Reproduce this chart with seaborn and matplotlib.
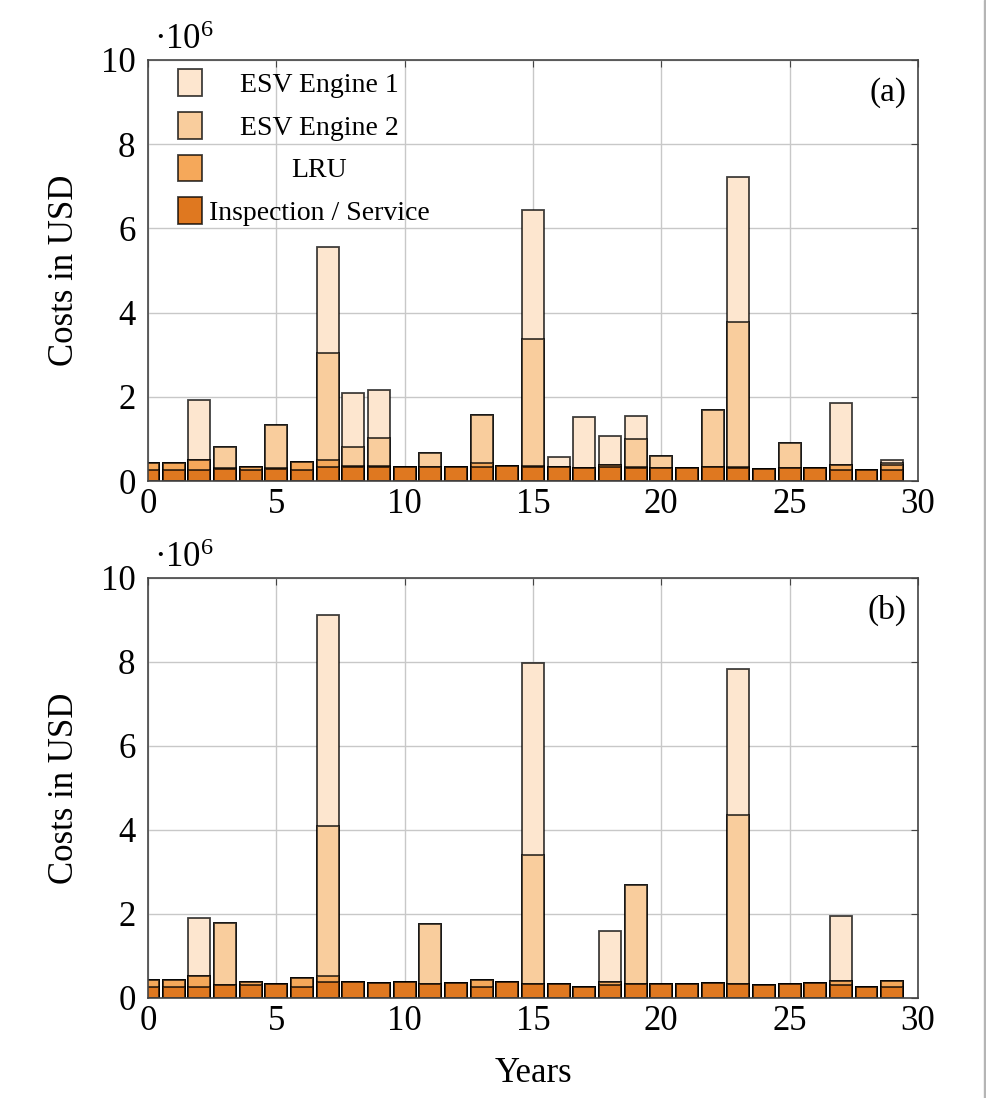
import pandas as pd
import seaborn as sns
import matplotlib.pyplot as plt
from matplotlib.patches import Rectangle

years = list(range(30))

# yearly costs, in 10^6 USD, one list per cost type
# panel (a)
insp_a = [0.27, 0.27, 0.27, 0.29, 0.27, 0.28, 0.27, 0.34, 0.33, 0.34,
          0.34, 0.33, 0.33, 0.33, 0.36, 0.33, 0.33, 0.30, 0.33, 0.30,
          0.32, 0.30, 0.34, 0.30, 0.29, 0.30, 0.31, 0.27, 0.27, 0.27]
lru_a = [0.15, 0.15, 0.23, 0.02, 0.07, 0.04, 0.18, 0.16, 0.03, 0.02,
         0.00, 0.00, 0.00, 0.09, 0.00, 0.02, 0.00, 0.00, 0.05, 0.03,
         0.00, 0.00, 0.00, 0.03, 0.00, 0.00, 0.00, 0.12, 0.00, 0.12]
esv2_a = [0.00, 0.00, 0.00, 0.50, 0.00, 1.01, 0.00, 2.54, 0.45, 0.66,
          0.00, 0.33, 0.00, 1.14, 0.00, 3.02, 0.00, 0.00, 0.00, 0.68,
          0.28, 0.00, 1.35, 3.45, 0.00, 0.61, 0.00, 0.00, 0.00, 0.05]
esv1_a = [0.00, 0.00, 1.42, 0.00, 0.00, 0.00, 0.00, 2.52, 1.28, 1.14,
          0.00, 0.00, 0.00, 0.00, 0.00, 3.07, 0.25, 1.22, 0.70, 0.53,
          0.00, 0.00, 0.00, 3.44, 0.00, 0.00, 0.00, 1.46, 0.00, 0.05]

# panel (b)
insp_b = [0.25, 0.25, 0.25, 0.31, 0.30, 0.33, 0.25, 0.37, 0.37, 0.36,
          0.37, 0.33, 0.35, 0.25, 0.38, 0.33, 0.33, 0.27, 0.30, 0.33,
          0.33, 0.33, 0.35, 0.33, 0.31, 0.33, 0.35, 0.30, 0.27, 0.25]
lru_b = [0.18, 0.18, 0.28, 0.00, 0.07, 0.00, 0.23, 0.16, 0.00, 0.00,
         0.00, 0.00, 0.00, 0.18, 0.00, 0.00, 0.00, 0.00, 0.08, 0.00,
         0.00, 0.00, 0.00, 0.00, 0.00, 0.00, 0.00, 0.11, 0.00, 0.15]
esv2_b = [0.00, 0.00, 0.00, 1.48, 0.00, 0.00, 0.00, 3.57, 0.00, 0.00,
          0.00, 1.43, 0.00, 0.00, 0.00, 3.07, 0.00, 0.00, 0.00, 2.36,
          0.00, 0.00, 0.00, 4.03, 0.00, 0.00, 0.00, 0.00, 0.00, 0.00]
esv1_b = [0.00, 0.00, 1.37, 0.00, 0.00, 0.00, 0.00, 5.02, 0.00, 0.00,
          0.00, 0.00, 0.00, 0.00, 0.00, 4.58, 0.00, 0.00, 1.22, 0.00,
          0.00, 0.00, 0.00, 3.47, 0.00, 0.00, 0.00, 1.54, 0.00, 0.00]

labels = ["ESV Engine 1", "ESV Engine 2", "LRU", "Inspection / Service"]
colors = ["#fde6cf", "#f9cd9d", "#f5a85a", "#df7820"]

sns.set_style("whitegrid")
plt.rcParams["font.family"] = ["Liberation Serif", "DejaVu Serif"]
plt.rcParams["mathtext.fontset"] = "custom"
plt.rcParams["mathtext.rm"] = "Liberation Serif"
plt.rcParams["mathtext.it"] = "Liberation Serif:italic"
plt.rcParams["text.color"] = "black"
plt.rcParams["axes.labelcolor"] = "black"
plt.rcParams["xtick.color"] = "black"
plt.rcParams["ytick.color"] = "black"

FS = 25


def panel(ax, insp, lru, esv2, esv1, tag):
    df = pd.DataFrame({"year": years, "insp": insp, "lru": lru, "esv2": esv2, "esv1": esv1})
    df["c_lru"] = df.insp + df.lru
    df["c_esv2"] = df.c_lru + df.esv2
    df["c_esv1"] = df.c_esv2 + df.esv1
    # stacked look: draw cumulative totals, biggest first
    for col, lab, c in zip(["c_esv1", "c_esv2", "c_lru", "insp"], labels, colors):
        sns.barplot(data=df, x="year", y=col, color=c, saturation=1, native_scale=True,
                    width=0.85, errorbar=None, edgecolor=(0, 0, 0, 0.75), linewidth=1.3,
                    label=lab, legend=False, ax=ax)
    ax.set_xlim(0, 30)
    ax.set_ylim(0, 10)
    ax.set_xticks(range(0, 31, 5))
    ax.set_yticks(range(0, 11, 2))
    ax.set_axisbelow(True)
    ax.grid(True, color="#c8c8c8", linewidth=1)
    for s in ax.spines.values():
        s.set_color("#444444")
        s.set_linewidth(1.2)
    ax.tick_params(direction="in", length=5, labelsize=FS, top=True, right=True,
                   color="#444444")
    ax.tick_params(axis="y", pad=9)
    ax.tick_params(axis="x", pad=5)
    ax.set_ylabel("Costs in USD", fontsize=FS, labelpad=14)
    ax.set_xlabel("")
    ax.text(0.008, 1.008, "·10$^{6}$", transform=ax.transAxes, fontsize=FS,
            ha="left", va="bottom")
    ax.text(0.985, 0.96, tag, transform=ax.transAxes, fontsize=FS - 1, ha="right", va="top")


fig = plt.figure(figsize=(9.87, 10.98), dpi=100)
ax1 = fig.add_axes([0.150, 0.5619, 0.780, 0.3835])
ax2 = fig.add_axes([0.150, 0.0911, 0.780, 0.3825])

panel(ax1, insp_a, lru_a, esv2_a, esv1_a, "(a)")
panel(ax2, insp_b, lru_b, esv2_b, esv1_b, "(b)")
ax2.set_xlabel("Years", fontsize=FS, labelpad=14)

leg = ax1.legend(loc="upper left", bbox_to_anchor=(0.039, 0.978), borderaxespad=0,
                 borderpad=0, frameon=False, fontsize=20, handlelength=0.85,
                 handleheight=1.1, handletextpad=0.25, labelspacing=0.5)

# centre legend texts on the widest one
fig.canvas.draw()
texts = leg.get_texts()
widths = [t.get_window_extent().width for t in texts]
for t, w in zip(texts, widths):
    t.set_x((max(widths) - w) / 2)

# page shadow on the right edge
fig.patches.append(Rectangle((0.9965, 0), 0.0035, 1, transform=fig.transFigure,
                             color="#b5b5b5", zorder=-1))

plt.savefig("out.png", dpi=100)
